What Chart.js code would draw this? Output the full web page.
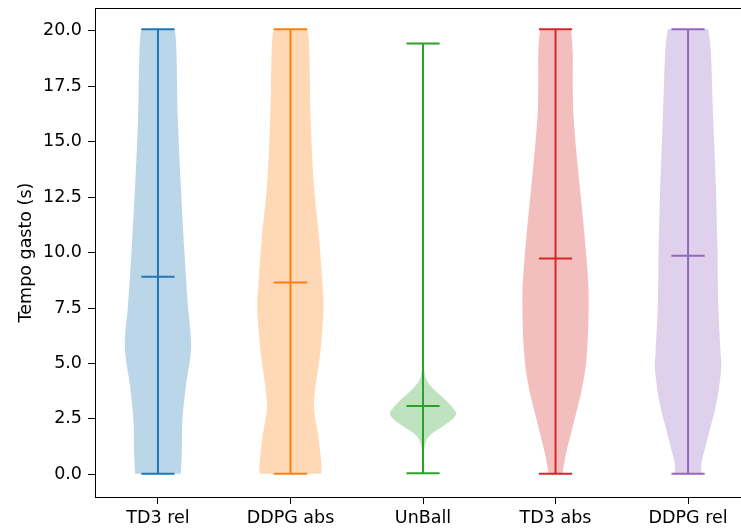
<!DOCTYPE html>
<html>
<head>
<meta charset="utf-8">
<script src="https://cdn.jsdelivr.net/npm/chart.js@4"></script>
<style>
  html, body { margin: 0; padding: 0; background: #fff; overflow: hidden; }
</style>
</head>
<body>
<canvas id="grafico" width="760" height="532"></canvas>
<script>
// dados
const categories = ['TD3 rel', 'DDPG abs', 'UnBall', 'TD3 abs', 'DDPG rel'];
const colors = ['#1f77b4', '#ff7f0e', '#2ca02c', '#d62728', '#9467bd'];
const mins = [0.03, 0.03, 0.05, 0.03, 0.03];
const maxs = [20.07, 20.07, 19.43, 20.07, 20.07];
const means = [8.91, 8.65, 3.08, 9.74, 9.86];
const yTicks = [0, 2.5, 5, 7.5, 10, 12.5, 15, 17.5, 20];

// perfil de densidade (nivel y, largura relativa)
const td3RelY = [0.03, 1.0, 2.45, 3.95, 5.75, 7.7, 10, 13, 16, 19, 20.07];
const td3RelW = [0.69, 0.72, 0.74, 0.84, 1.0, 0.90, 0.80, 0.69, 0.60, 0.56, 0.51];
const ddpgAbsY = [0.03, 0.54, 1.74, 3.24, 5.5, 7.45, 8.5, 10.75, 13, 16, 19, 20.07];
const ddpgAbsW = [0.93, 0.93, 0.84, 0.71, 0.90, 1.0, 0.97, 0.86, 0.71, 0.61, 0.57, 0.52];
const unBallY = [0.05, 1.0, 1.25, 1.55, 1.85, 2.15, 2.45, 2.75, 3.05, 3.35, 3.8, 4.25, 4.7, 5.2, 19.43];
const unBallW = [0, 0.01, 0.05, 0.11, 0.28, 0.58, 0.86, 1.0, 0.87, 0.68, 0.35, 0.11, 0.04, 0.005, 0];
const td3AbsY = [0.03, 0.2, 0.95, 2.45, 3.95, 5.5, 7.75, 9.25, 11.5, 13.75, 16, 17.5, 19, 20.07];
const td3AbsW = [0.21, 0.23, 0.32, 0.57, 0.81, 0.95, 1.0, 0.96, 0.83, 0.68, 0.55, 0.52, 0.52, 0.47];
const ddpgRelY = [0.03, 0.54, 1.74, 3.24, 4.75, 5.5, 7.75, 10, 13, 16, 19, 20.07];
const ddpgRelW = [0.41, 0.41, 0.61, 0.86, 1.0, 0.98, 0.91, 0.89, 0.84, 0.76, 0.69, 0.61];

const profilesY = [td3RelY, ddpgAbsY, unBallY, td3AbsY, ddpgRelY];
const profilesW = [td3RelW, ddpgAbsW, unBallW, td3AbsW, ddpgRelW];

const halfWidth = 0.25;   // metade da largura do violino (unidades x)

function hexToRgba(hex, a) {
    const n = parseInt(hex.slice(1), 16);
    return 'rgba(' + (n >> 16) + ',' + ((n >> 8) & 255) + ',' + (n & 255) + ',' + a + ')';
}

// curva suave (catmull-rom) pelos pontos
function smoothPath(ctx, pts, moveFirst) {
    if (moveFirst) ctx.moveTo(pts[0][0], pts[0][1]); else ctx.lineTo(pts[0][0], pts[0][1]);
    for (let i = 0; i < pts.length - 1; i++) {
        const p0 = pts[Math.max(i - 1, 0)], p1 = pts[i], p2 = pts[i + 1], p3 = pts[Math.min(i + 2, pts.length - 1)];
        const c1x = p1[0] + (p2[0] - p0[0]) / 6, c1y = p1[1] + (p2[1] - p0[1]) / 6;
        const c2x = p2[0] - (p3[0] - p1[0]) / 6, c2y = p2[1] - (p3[1] - p1[1]) / 6;
        ctx.bezierCurveTo(c1x, c1y, c2x, c2y, p2[0], p2[1]);
    }
}

const violinPlugin = {
    id: 'violinos',
    beforeDatasetsDraw(chart) {
        const ctx = chart.ctx;
        const xs = chart.scales.x, ys = chart.scales.y;
        ctx.save();
        categories.forEach((c, i) => {
            const pos = i + 1;
            const py = profilesY[i], pw = profilesW[i];
            const right = py.map((v, k) => [xs.getPixelForValue(pos + pw[k] * halfWidth), ys.getPixelForValue(v)]);
            const left = py.map((v, k) => [xs.getPixelForValue(pos - pw[k] * halfWidth), ys.getPixelForValue(v)]).reverse();
            ctx.beginPath();
            smoothPath(ctx, right, true);
            smoothPath(ctx, left, false);
            ctx.closePath();
            ctx.fillStyle = hexToRgba(colors[i], 0.3);
            ctx.fill();

            // linha vertical
            ctx.beginPath();
            ctx.strokeStyle = colors[i];
            ctx.lineWidth = 2;
            ctx.moveTo(xs.getPixelForValue(pos), ys.getPixelForValue(mins[i]));
            ctx.lineTo(xs.getPixelForValue(pos), ys.getPixelForValue(maxs[i]));
            ctx.stroke();
        });
        ctx.restore();
    },
    afterDraw(chart) {
        // moldura superior e direita
        const a = chart.chartArea, ctx = chart.ctx;
        ctx.save();
        ctx.strokeStyle = '#000';
        ctx.lineWidth = 1;
        ctx.beginPath();
        ctx.moveTo(a.left, a.top + 0.5);
        ctx.lineTo(a.right, a.top + 0.5);
        ctx.moveTo(a.right - 0.5, a.top);
        ctx.lineTo(a.right - 0.5, a.bottom);
        ctx.stroke();
        ctx.restore();
    }
};

function capPoints(vals) {
    return vals.map((v, i) => ({ x: i + 1, y: v }));
}

Chart.defaults.font.family = "'DejaVu Sans', sans-serif";
Chart.defaults.font.size = 17.5;
Chart.defaults.color = '#000';

const ctx = document.getElementById('grafico').getContext('2d');
const capStyle = {
    pointStyle: 'line',
    pointRadius: 16.6,
    pointHoverRadius: 16.6,
    pointBorderWidth: 2,
    pointBorderColor: colors,
    showLine: false
};

const grafico = new Chart(ctx, {
    type: 'scatter',
    data: {
        datasets: [
            Object.assign({ label: 'min', data: capPoints(mins) }, capStyle),
            Object.assign({ label: 'max', data: capPoints(maxs) }, capStyle),
            Object.assign({ label: 'media', data: capPoints(means) }, capStyle)
        ]
    },
    options: {
        responsive: false,
        animation: false,
        events: [],
        layout: { autoPadding: false, padding: { top: 8, right: 9, left: 0, bottom: 0 } },
        plugins: {
            legend: { display: false },
            tooltip: { enabled: false }
        },
        scales: {
            x: {
                type: 'linear',
                min: 0.525,
                max: 5.475,
                afterBuildTicks: (s) => { s.ticks = categories.map((c, i) => ({ value: i + 1 })); },
                afterFit: (s) => { s.height = 35; s.paddingLeft = 0; s.paddingRight = 0; },
                grid: { display: true, drawOnChartArea: false, tickLength: 7, color: '#000' },
                border: { display: true, color: '#000', width: 1 },
                ticks: {
                    autoSkip: false,
                    maxRotation: 0,
                    padding: 4,
                    callback: (v) => categories[Math.round(v) - 1]
                }
            },
            y: {
                type: 'linear',
                min: -1.02,
                max: 21.03,
                afterBuildTicks: (s) => { s.ticks = yTicks.map(v => ({ value: v })); },
                afterFit: (s) => { s.width = 95; s.paddingTop = 0; s.paddingBottom = 0; },
                grid: { display: true, drawOnChartArea: false, tickLength: 7, color: '#000' },
                border: { display: true, color: '#000', width: 1 },
                title: {
                    display: true,
                    text: 'Tempo gasto (s)',
                    padding: { top: 16, bottom: 0 }
                },
                ticks: {
                    padding: 6,
                    callback: (v) => Number(v).toFixed(1)
                }
            }
        }
    },
    plugins: [violinPlugin]
});
</script>
</body>
</html>
